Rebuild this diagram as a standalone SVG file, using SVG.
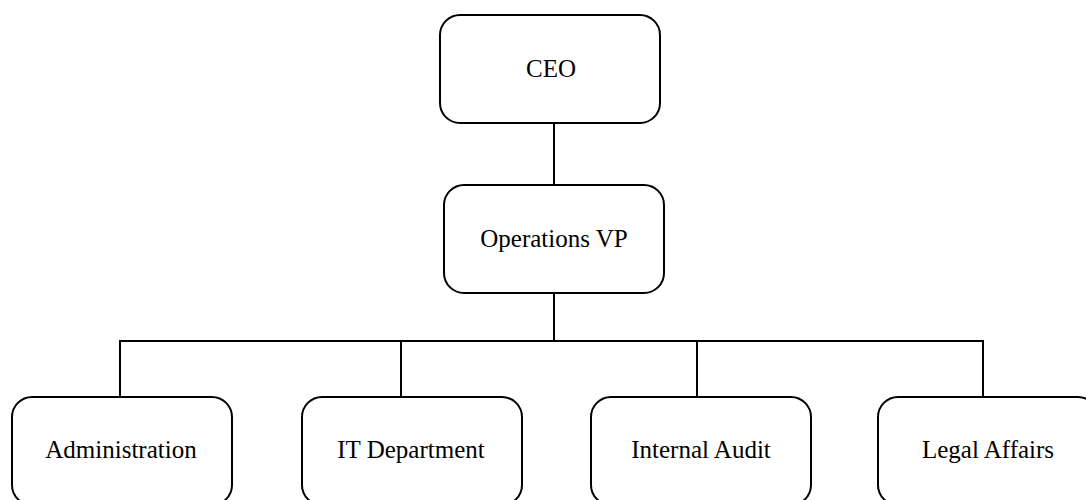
<svg xmlns="http://www.w3.org/2000/svg" width="1086" height="500" viewBox="0 0 1086 500">
  <style>
    .box { fill: #ffffff; stroke: #000000; stroke-width: 2; }
    .label { font-family: "Liberation Serif", "Times New Roman", serif; font-size: 25px; fill: #000000; text-anchor: middle; }
    .link { fill: none; stroke: #000000; stroke-width: 2; }
  </style>
  <rect width="1086" height="500" fill="#ffffff"/>

  <!-- reporting lines -->
  <g id="connectors">
    <line class="link" x1="554" y1="123" x2="554" y2="185"/>
    <line class="link" x1="554" y1="293" x2="554" y2="341"/>
    <line class="link" x1="119" y1="341" x2="984" y2="341"/>
    <line class="link" x1="120" y1="341" x2="120" y2="397"/>
    <line class="link" x1="401" y1="341" x2="401" y2="397"/>
    <line class="link" x1="697" y1="341" x2="697" y2="397"/>
    <line class="link" x1="983" y1="341" x2="983" y2="397"/>
  </g>

  <g id="ceo">
    <rect class="box" x="440" y="15" width="220" height="108" rx="20" ry="20"/>
    <text class="label" x="551" y="77">CEO</text>
  </g>

  <g id="operations-vp">
    <rect class="box" x="444" y="185" width="220" height="108" rx="20" ry="20"/>
    <text class="label" x="554" y="247">Operations VP</text>
  </g>

  <g id="administration">
    <rect class="box" x="12" y="397" width="220" height="108" rx="20" ry="20"/>
    <text class="label" x="121" y="458">Administration</text>
  </g>

  <g id="it-department">
    <rect class="box" x="302" y="397" width="220" height="108" rx="20" ry="20"/>
    <text class="label" x="411" y="458">IT Department</text>
  </g>

  <g id="internal-audit">
    <rect class="box" x="591" y="397" width="220" height="108" rx="20" ry="20"/>
    <text class="label" x="701" y="458">Internal Audit</text>
  </g>

  <g id="legal-affairs">
    <rect class="box" x="878" y="397" width="220" height="108" rx="20" ry="20"/>
    <text class="label" x="988" y="458">Legal Affairs</text>
  </g>
</svg>
